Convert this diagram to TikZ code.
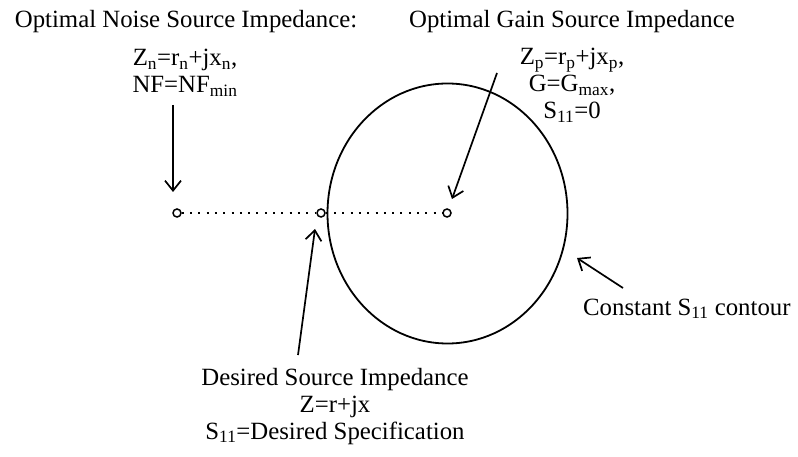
\documentclass[tikz,border=0pt]{standalone}
\usepackage{fontspec}
\setmainfont{Liberation Serif}
\usetikzlibrary{arrows.meta}

\begin{document}
\begin{tikzpicture}[x=1pt,y=-1pt,
  lbl/.style={font=\fontsize{24.8}{27}\selectfont,align=center,inner sep=0pt},
  pt/.style={circle,draw,fill=white,line width=1.5pt,minimum size=8pt,inner sep=0pt},
  ptr/.style={-{Straight Barb[length=10pt,width=16pt]},line width=1.7pt}]
  \useasboundingbox (0,0) rectangle (798,457);
  % constant S11 contour
  \draw[line width=1.8pt] (447.5,213.5) ellipse (120pt and 130pt);
  % impedance points
  \node[pt] (nopt) at (177,213) {};
  \node[pt] (dpt) at (321,213) {};
  \node[pt] (gpt) at (447,213) {};
  \draw[line width=1.6pt,dash pattern=on 2pt off 6.3pt] (nopt) -- (dpt) -- (gpt);
  % labels (base = baseline of the last line)
  \node[lbl,anchor=base] (noisetitle) at (186,28) {Optimal Noise Source Impedance:};
  \node[lbl,anchor=base] (noiseeq) at (185,93) {Z\textsubscript{n}=r\textsubscript{n}+jx\textsubscript{n},\\NF=NF\textsubscript{min}};
  \node[lbl,anchor=base] (gaintitle) at (572,28) {Optimal Gain Source Impedance};
  \node[lbl,anchor=base] (gaineq) at (572,119) {Z\textsubscript{p}=r\textsubscript{p}+jx\textsubscript{p},\\G=G\textsubscript{max},\\S\textsubscript{11}=0};
  \node[lbl,anchor=base] (desired) at (335,439) {Desired Source Impedance\\Z=r+jx\\S\textsubscript{11}=Desired Specification};
  \node[lbl,anchor=base west] (contour) at (583,315) {Constant S\textsubscript{11} contour};
  % pointers
  \coordinate (noisetail) at (173,105);
  \coordinate (noisehead) at (173,192);
  \coordinate (gaintail) at (497,73);
  \coordinate (gainhead) at (452,199);
  \coordinate (destail) at (298,355);
  \coordinate (deshead) at (315,229);
  \coordinate (contail) at (623,288);
  \coordinate (conhead) at (577,258);
  \draw[ptr] (noisetail) -- (noisehead);
  \draw[ptr] (gaintail) -- (gainhead);
  \draw[ptr] (destail) -- (deshead);
  \draw[ptr] (contail) -- (conhead);
\end{tikzpicture}
\end{document}
